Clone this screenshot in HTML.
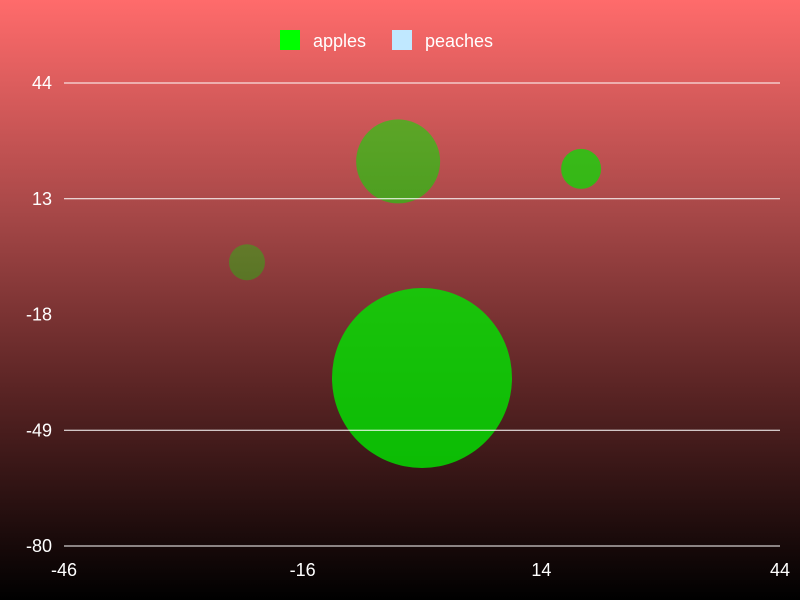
<!DOCTYPE html>
<html><head><meta charset="utf-8"><style>
body{margin:0;width:800px;height:600px;overflow:hidden;font-family:"Liberation Sans",sans-serif}
#bg{position:absolute;left:0;top:0;width:800px;height:600px;background:linear-gradient(to bottom,#ff6b6b 0%,#a84848 35%,#5a2424 65%,#000 100%)}
</style></head><body>
<div id="bg"></div>
<svg id="c" width="800" height="600" style="position:absolute;left:0;top:0"></svg>
<script>
const xTicks=[-46,-16,14,44];
const yTicks=[44,13,-18,-49,-80];
const hiddenGrid=[-18];
const appleX=[-4,19,-23,-1];
const appleY=[23,21,-4,-35];
const appleR=[42,20,18,90];
const appleAlpha=[0.55,0.7,0.35,0.8];
const X0=64,X1=780,Y0=546,Y1=83;
const sx=v=>X0+(v-xTicks[0])/(xTicks[xTicks.length-1]-xTicks[0])*(X1-X0);
const sy=v=>Y0-(v-yTicks[yTicks.length-1])/(yTicks[0]-yTicks[yTicks.length-1])*(Y0-Y1);
const svg=document.getElementById('c');const NS='http://www.w3.org/2000/svg';
function mk(t,a,txt){const e=document.createElementNS(NS,t);for(const k in a)e.setAttribute(k,a[k]);if(txt!==undefined)e.textContent=txt;svg.appendChild(e);return e;}
appleX.forEach((v,i)=>{
 const c=mk('circle',{cx:sx(v),cy:sy(appleY[i]),r:appleR[i],fill:'rgb(0,230,0)','fill-opacity':appleAlpha[i]});
 
 
});
yTicks.forEach(v=>{
 if(!hiddenGrid.includes(v)){
  const l=mk('line',{x1:X0,x2:X1,y1:sy(v),y2:sy(v),stroke:'#fff','stroke-width':1});
  
  
 }
 const t=mk('text',{x:52,y:sy(v)+6,fill:'#fff','font-size':18,'text-anchor':'end'},String(v));
 
 
});
xTicks.forEach(v=>{
 const t=mk('text',{x:sx(v),y:576,fill:'#fff','font-size':18,'text-anchor':'middle'},String(v));
 
 
});
</script>
<svg width="800" height="60" style="position:absolute;left:0;top:0">
<g><rect x="280" y="30" width="20" height="20" fill="#00ff00"/><text x="313" y="47" fill="#fff" font-size="18" font-family="Liberation Sans">apples</text></g>
<g><rect x="392" y="30" width="20" height="20" fill="#c0e8ff"/><text x="425" y="47" fill="#fff" font-size="18" font-family="Liberation Sans">peaches</text></g>
</svg>
</body></html>
